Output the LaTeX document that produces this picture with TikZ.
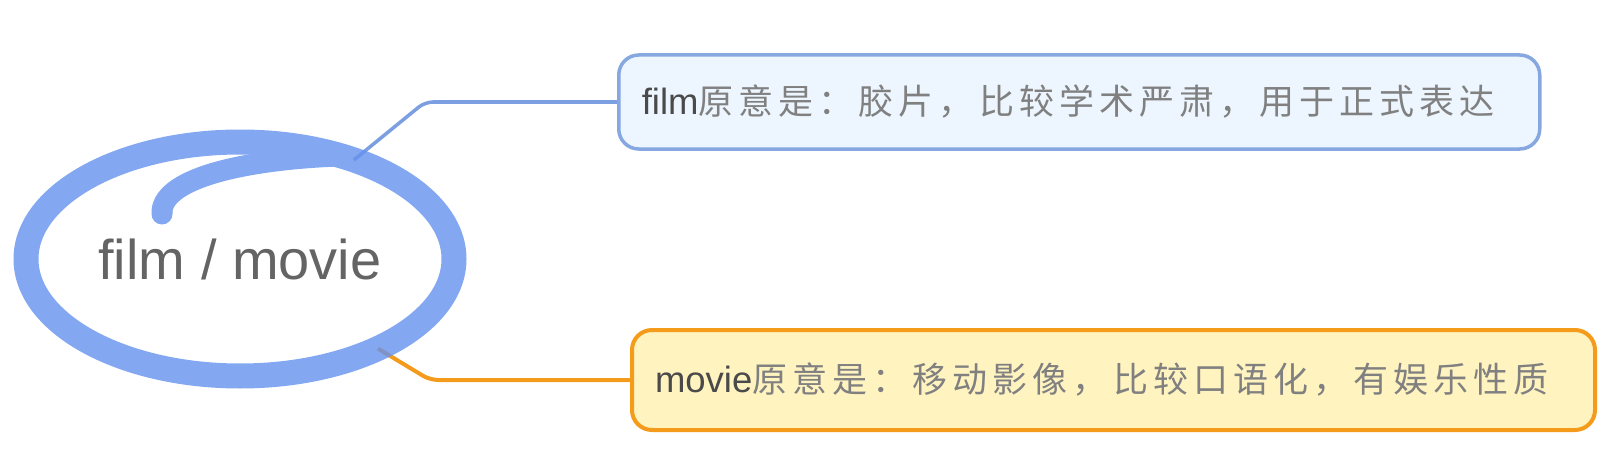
\documentclass[tikz,border=0pt]{standalone}
\usepackage{fontspec}
\setmainfont{Liberation Sans}
\newfontfamily\cjk[LetterSpace=14.5]{Noto Sans CJK SC}
\usetikzlibrary{shapes.geometric}
\usetikzlibrary{backgrounds}
\definecolor{brush}{RGB}{100,146,238}
\definecolor{filmline}{RGB}{123,159,224}
\definecolor{filmedge}{RGB}{135,167,224}
\definecolor{filmfill}{RGB}{237,246,254}
\definecolor{movieedge}{RGB}{245,155,28}
\definecolor{moviefill}{RGB}{255,243,192}
\definecolor{wordgray}{RGB}{74,74,74}
\definecolor{zhgray}{RGB}{128,128,128}

\begin{document}
\begin{tikzpicture}[x=1pt, y=-1pt,
	brushstroke/.style={draw=brush, line width=25pt, line cap=round},
	topic/.style={ellipse, brushstroke, minimum width=428pt, minimum height=234pt,
		inner sep=0pt, outer sep=0pt, text=black!76, font=\fontsize{56}{62}\selectfont},
	leaf/.style={rounded corners=20pt, line width=3.5pt, anchor=west, align=left,
		inner xsep=23pt, inner ysep=0pt, font=\fontsize{36.5}{40}\selectfont},
	link/.style={line width=3.5pt, rounded corners=8pt}]
		\useasboundingbox (0,0) rectangle (1610,452);
		\begin{scope}[transparency group, opacity=0.8]
			\node[topic] (topic) at (240,259) {film / movie};
			\draw[brushstroke, line width=21pt] (162,214) .. controls (160,180) and (238,160) .. (338,156);
		\end{scope}
		\node[leaf, draw=filmedge, fill=filmfill, text width=875pt, minimum height=94pt]
			(filmbox) at (617,102) {\color{wordgray}film{\cjk\fontsize{35}{40}\selectfont\color{zhgray}原意是：胶片，比较学术严肃，用于正式表达}};
		\node[leaf, draw=movieedge, fill=moviefill, line width=4pt, text width=917pt, minimum height=100pt]
			(moviebox) at (630,380) {\color{wordgray}movie{\cjk\fontsize{35}{40}\selectfont\color{zhgray}原意是：移动影像，比较口语化，有娱乐性质}};
		\coordinate (filmbend) at (425,102);
		\coordinate (moviebend) at (430,380);
		\begin{scope}[on background layer]
			\draw[link, filmline] (topic.41) -- (filmbend) -- (filmbox.west);
			\draw[link, movieedge, line width=4pt] (topic.-33) -- (moviebend) -- (moviebox.west);
		\end{scope}
	\end{tikzpicture}
\end{document}
